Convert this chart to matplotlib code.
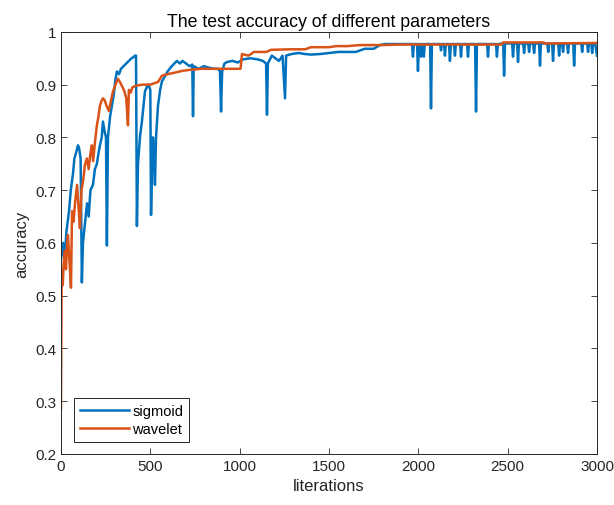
import matplotlib.pyplot as plt

plt.rcParams['font.family'] = ['Liberation Sans', 'DejaVu Sans']

# sigmoid curve
sig_x = [0, 5, 12, 20, 30, 45, 55, 67, 75, 84, 95, 101, 110, 117, 123, 135, 146, 155, 165, 179,
         190, 201, 210, 218, 228, 235, 245, 252, 257, 263, 275, 285, 295, 305, 313, 325, 336, 350,
         365, 380, 395, 405, 414, 420, 425, 431, 442, 453, 462, 470, 480, 490, 500, 504, 510, 515,
         521, 526, 532, 543, 555, 565, 580, 599, 620, 649, 665, 680, 700, 720, 735, 739, 743, 770,
         800, 830, 860, 880, 890, 896, 902, 915, 930, 960, 990, 1020, 1060, 1100, 1130, 1148, 1153,
         1158, 1180, 1200, 1220, 1240, 1254, 1260, 1290, 1330, 1366, 1400, 1450, 1500, 1553, 1600,
         1650, 1700, 1750, 1785, 1815, 1850, 1900, 1950, 1965, 1970, 1975, 1993, 1998, 2003, 2010,
         2015, 2020, 2026, 2031, 2036, 2066, 2071, 2076, 2122, 2127, 2132, 2144, 2149, 2154, 2172,
         2177, 2182, 2200, 2205, 2210, 2234, 2239, 2244, 2273, 2278, 2283, 2318, 2323, 2328, 2385,
         2390, 2395, 2435, 2440, 2445, 2475, 2480, 2485, 2525, 2530, 2535, 2553, 2558, 2563, 2587,
         2592, 2597, 2615, 2620, 2625, 2643, 2648, 2653, 2676, 2681, 2686, 2722, 2727, 2732, 2749,
         2754, 2759, 2783, 2788, 2793, 2805, 2810, 2815, 2833, 2838, 2843, 2867, 2872, 2877, 2912,
         2917, 2922, 2945, 2950, 2955, 2968, 2973, 2978, 2990, 3000]
sig_y = [0.57, 0.585, 0.60, 0.56, 0.62, 0.66, 0.70, 0.73, 0.76, 0.77, 0.785, 0.78, 0.76, 0.525,
         0.60, 0.64, 0.675, 0.65, 0.70, 0.71, 0.74, 0.75, 0.77, 0.785, 0.80, 0.83, 0.81, 0.80,
         0.595, 0.80, 0.84, 0.86, 0.88, 0.91, 0.925, 0.92, 0.93, 0.935, 0.94, 0.945, 0.95, 0.952,
         0.955, 0.955, 0.632, 0.75, 0.80, 0.83, 0.86, 0.887, 0.895, 0.90, 0.89, 0.653, 0.75, 0.80,
         0.76, 0.71, 0.80, 0.86, 0.89, 0.906, 0.915, 0.926, 0.935, 0.945, 0.94, 0.945, 0.94, 0.935,
         0.938, 0.84, 0.935, 0.93, 0.935, 0.932, 0.93, 0.93, 0.925, 0.849, 0.925, 0.94, 0.943,
         0.945, 0.942, 0.948, 0.95, 0.948, 0.945, 0.94, 0.843, 0.94, 0.955, 0.95, 0.945, 0.955,
         0.874, 0.955, 0.958, 0.96, 0.958, 0.957, 0.958, 0.96, 0.962, 0.962, 0.962, 0.968, 0.968,
         0.975, 0.977, 0.977, 0.977, 0.977, 0.977, 0.953, 0.977, 0.977, 0.926, 0.977, 0.977, 0.953,
         0.977, 0.977, 0.953, 0.977, 0.977, 0.855, 0.977, 0.977, 0.965, 0.977, 0.977, 0.955, 0.977,
         0.977, 0.945, 0.977, 0.977, 0.955, 0.977, 0.977, 0.953, 0.977, 0.977, 0.953, 0.977, 0.977,
         0.849, 0.977, 0.977, 0.953, 0.977, 0.977, 0.953, 0.977, 0.978, 0.917, 0.978, 0.978, 0.953,
         0.978, 0.978, 0.943, 0.978, 0.978, 0.96, 0.978, 0.978, 0.962, 0.978, 0.978, 0.96, 0.978,
         0.978, 0.936, 0.978, 0.978, 0.962, 0.978, 0.978, 0.945, 0.978, 0.978, 0.955, 0.978, 0.978,
         0.962, 0.978, 0.978, 0.96, 0.978, 0.978, 0.936, 0.978, 0.978, 0.962, 0.978, 0.978, 0.962,
         0.978, 0.978, 0.96, 0.978, 0.978, 0.955]

# wavelet curve
wav_x = [0, 3, 5, 10, 15, 22, 28, 35, 39, 45, 52, 56, 62, 70, 80, 90, 100, 106, 115, 125, 134,
         145, 155, 165, 173, 180, 190, 201, 210, 218, 228, 235, 245, 255, 268, 280, 291, 305, 319,
         330, 345, 355, 365, 375, 380, 390, 400, 420, 453, 500, 543, 565, 600, 640, 677, 720, 787,
         850, 900, 950, 1005, 1013, 1050, 1080, 1150, 1175, 1280, 1366, 1400, 1500, 1540, 1600,
         1675, 1800, 1900, 2000, 2150, 2300, 2465, 2475, 2700, 2710, 3000]
wav_y = [0.285, 0.50, 0.547, 0.52, 0.56, 0.585, 0.55, 0.60, 0.615, 0.58, 0.54, 0.515, 0.66, 0.64,
         0.68, 0.71, 0.66, 0.628, 0.70, 0.72, 0.748, 0.76, 0.74, 0.77, 0.785, 0.755, 0.79, 0.823,
         0.84, 0.86, 0.87, 0.874, 0.87, 0.86, 0.85, 0.87, 0.887, 0.90, 0.911, 0.905, 0.895, 0.887,
         0.875, 0.823, 0.89, 0.885, 0.895, 0.898, 0.90, 0.90, 0.905, 0.917, 0.92, 0.923, 0.926,
         0.928, 0.93, 0.93, 0.93, 0.93, 0.93, 0.958, 0.955, 0.962, 0.962, 0.966, 0.967, 0.967,
         0.971, 0.971, 0.973, 0.973, 0.975, 0.975, 0.976, 0.976, 0.976, 0.976, 0.976, 0.980, 0.980,
         0.978, 0.979]

fig = plt.figure(figsize=(6.14, 5.06), dpi=100)
ax = fig.add_axes([0.0993, 0.101, 0.873, 0.834])

ax.plot(sig_x, sig_y, color='#0072BD', lw=1.8, label='sigmoid')
ax.plot(wav_x, wav_y, color='#D95319', lw=1.8, label='wavelet')

ax.set_xlim(0, 3000)
ax.set_ylim(0.2, 1)
ax.set_xticks(range(0, 3001, 500))
ax.set_yticks([0.2, 0.3, 0.4, 0.5, 0.6, 0.7, 0.8, 0.9, 1])
ax.set_yticklabels(['0.2', '0.3', '0.4', '0.5', '0.6', '0.7', '0.8', '0.9', '1'])
ax.tick_params(direction='in', top=True, right=True, length=4, width=0.6,
               labelsize=11, colors='#262626')
for s in ax.spines.values():
    s.set_color('#262626')
    s.set_linewidth(0.7)

ax.set_xlabel('literations', fontsize=12, color='#262626', labelpad=4)
ax.set_ylabel('accuracy', fontsize=12, color='#262626', labelpad=4)
ax.set_title('The test accuracy of different parameters', fontsize=12.8, color='black', pad=4)

leg = ax.legend(loc='lower left', bbox_to_anchor=(0.024, 0.028), fontsize=10.5,
                fancybox=False, framealpha=1, edgecolor='#262626', borderaxespad=0,
                handlelength=3.4, handletextpad=0.2, labelspacing=0.3, borderpad=0.4)
leg.get_frame().set_linewidth(0.7)

plt.savefig('out.png', dpi=100)
